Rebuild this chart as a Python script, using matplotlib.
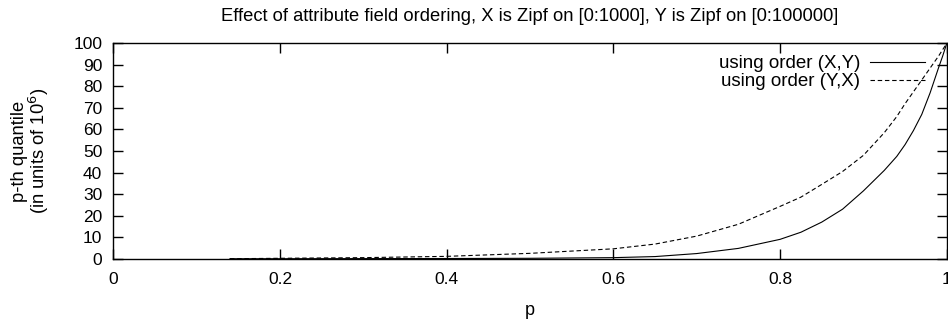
import matplotlib
matplotlib.use("Agg")
import matplotlib.pyplot as plt

plt.rcParams['font.family'] = ['Liberation Sans', 'DejaVu Sans']
plt.rcParams['font.size'] = 12.5

# p values and quantiles (in units of 10^6)
p = [0.14, 0.2, 0.3, 0.4, 0.5, 0.6, 0.65, 0.7, 0.75, 0.8, 0.825, 0.85, 0.875,
     0.9, 0.925, 0.94, 0.95, 0.96, 0.97, 0.98, 0.99, 0.995, 1.0]
q_xy = [0.0, 0.0, 0.05, 0.1, 0.2, 0.5, 1.0, 2.4, 4.8, 9.0, 12.3, 17.0, 23.0,
        31.5, 41.0, 47.5, 53.0, 59.5, 67.0, 77.0, 88.5, 94.0, 100.0]
q_yx = [0.0, 0.2, 0.5, 1.1, 2.5, 4.6, 6.8, 10.5, 16.0, 24.3, 28.6, 34.5, 40.5,
        48.0, 58.5, 66.0, 72.0, 77.5, 83.0, 88.5, 94.0, 97.0, 100.0]

fig = plt.figure(figsize=(9.48, 3.21), dpi=100)
ax = fig.add_axes([0.1195, 0.194, 0.8792, 0.671])

ax.plot(p, q_xy, color='black', lw=0.8, label='using order (X,Y)')
ax.plot(p, q_yx, color='black', lw=0.8, ls=(0, (4, 2.5)), label='using order (Y,X)')

ax.set_xlim(0, 1)
ax.set_ylim(0, 100)
ax.set_xticks([0, 0.2, 0.4, 0.6, 0.8, 1])
ax.set_xticklabels(['0', '0.2', '0.4', '0.6', '0.8', '1'])
ax.set_yticks(range(0, 101, 10))
ax.tick_params(direction='in', length=7, width=1, top=True, right=True,
               labelsize=12.5)
ax.tick_params(axis='x', pad=9.5)
ax.tick_params(axis='y', pad=8)
for s in ax.spines.values():
    s.set_linewidth(1)

ax.set_title('Effect of attribute field ordering, X is Zipf on [0:1000], Y is Zipf on [0:100000]',
             fontsize=13.2, pad=16)
ax.set_xlabel('p', fontsize=13, labelpad=11)
ax.set_ylabel('p-th quantile\n(in units of 10$^6$)', fontsize=13.2, linespacing=0.95)
ax.yaxis.set_label_coords(-0.075, 0.5)

leg = ax.legend(loc='upper right', frameon=False, markerfirst=False, fontsize=13.5,
                handlelength=2.93, handletextpad=0.53, labelspacing=0.05,
                borderaxespad=0, borderpad=0, bbox_to_anchor=(0.974, 0.945))
for t in leg.get_texts():
    t.set_ha('right')

fig.savefig('out.png', dpi=100)
